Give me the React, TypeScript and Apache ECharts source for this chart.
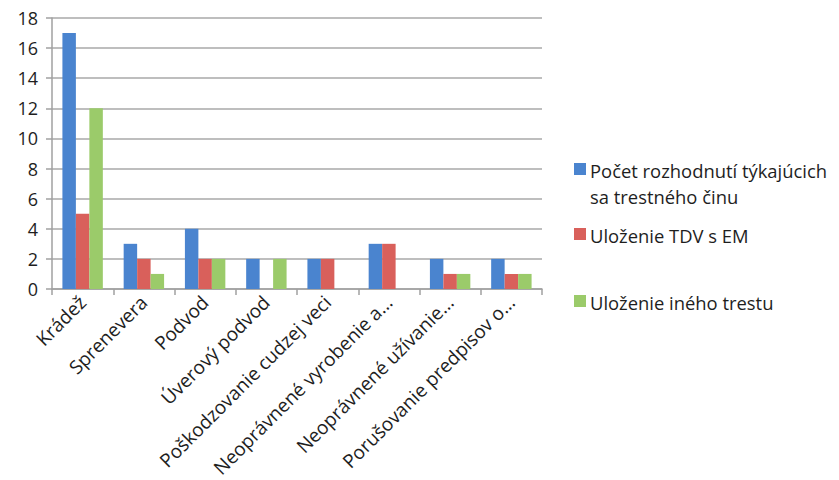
import React, { useEffect, useRef } from "react";
import * as echarts from "echarts";

const categories = [
  "Krádež",
  "Sprenevera",
  "Podvod",
  "Úverový podvod",
  "Poškodzovanie cudzej veci",
  "Neoprávnené vyrobenie a...",
  "Neoprávnené užívanie...",
  "Porušovanie predpisov o...",
];

const seriesNames = [
  "Počet rozhodnutí týkajúcich\nsa trestného činu",
  "Uloženie TDV s EM",
  "Uloženie iného trestu",
];

const decisions = [17, 3, 4, 2, 2, 3, 2, 2];
const tdvWithEm = [5, 2, 2, 0, 2, 3, 1, 1];
const otherPenalty = [12, 1, 2, 2, 0, 0, 1, 1];

const colors = ["#4A84CF", "#D9605B", "#9BCB6A"];
const legendY = [160, 225, 292];

const FONT = "'Open Sans', sans-serif";

export default function App() {
  const ref = useRef<HTMLDivElement>(null);

  useEffect(() => {
    if (!ref.current) return;
    const chart = echarts.init(ref.current, undefined, { renderer: "svg" });
    const values = [decisions, tdvWithEm, otherPenalty];

    // Legend drawn by hand: square marker aligned with the first line of each name
    const graphic: any[] = [];
    seriesNames.forEach((name, i) => {
      graphic.push({
        type: "rect",
        shape: { x: 574, y: legendY[i] + 3, width: 12, height: 12 },
        style: { fill: colors[i] },
      });
      graphic.push({
        type: "text",
        x: 590,
        y: legendY[i] - 3,
        style: {
          text: name,
          font: `18.4px ${FONT}`,
          fill: "#1e1e1e",
          lineHeight: 26,
        },
      });
    });

    chart.setOption({
      animation: false,
      color: colors,
      grid: { left: 52, right: 297, top: 18, bottom: 191 },
      xAxis: {
        type: "category",
        data: categories,
        axisLine: { lineStyle: { color: "#a0a0a0", width: 1.5 } },
        axisTick: { show: true, length: 6, lineStyle: { color: "#a0a0a0", width: 1.5 } },
        axisLabel: {
          rotate: 45,
          interval: 0,
          margin: 10,
          color: "#1e1e1e",
          fontFamily: FONT,
          fontSize: 19,
        },
      },
      yAxis: {
        type: "value",
        min: 0,
        max: 18,
        interval: 2,
        axisLine: { show: true, lineStyle: { color: "#a0a0a0", width: 1.5 } },
        axisTick: { show: true, length: 6, lineStyle: { color: "#a0a0a0", width: 1.5 } },
        splitLine: { lineStyle: { color: "#a8a8a8", width: 1.5 } },
        axisLabel: {
          color: "#1e1e1e",
          fontFamily: FONT,
          fontSize: 18,
          margin: 14,
        },
      },
      series: seriesNames.map((name, i) => ({
        type: "bar",
        name,
        data: values[i],
        barGap: "0%",
        barCategoryGap: "34%",
        itemStyle: { color: colors[i] },
      })),
      graphic,
    });

    return () => chart.dispose();
  }, []);

  return <div ref={ref} style={{ width: 839, height: 480, marginTop: -8, marginLeft: -8 }} />;
}
